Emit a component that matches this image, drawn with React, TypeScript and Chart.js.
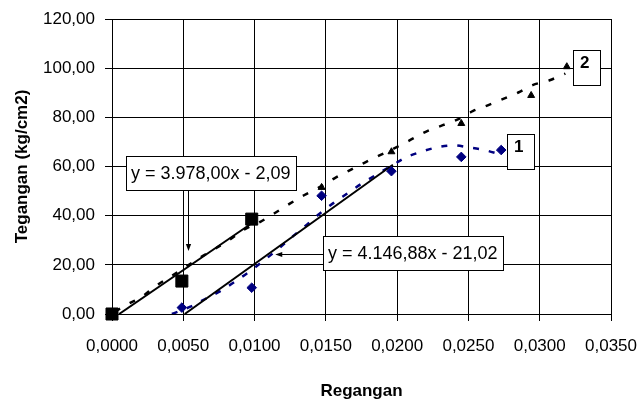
import React, { useEffect, useRef } from 'react';
import { Chart, registerables } from 'chart.js';

Chart.register(...registerables);

// ---- data ----
const X_TICKS_MIN = 0;
const X_TICKS_MAX = 0.035;
const X_STEP = 0.005;
const Y_TICKS_MIN = 0;
const Y_TICKS_MAX = 120;
const Y_STEP = 20;

// Series 1 (blue diamonds)
const S1_X = [0.0049, 0.0098, 0.0147, 0.0196, 0.0245, 0.0273];
const S1_Y = [2.6, 10.7, 48.1, 58.1, 63.9, 66.7];

// Series 2 (black triangles)
const S2_X = [0, 0.0049, 0.0098, 0.0147, 0.0196, 0.0245, 0.0294, 0.0319];
const S2_Y = [0, 13.4, 38.6, 51.5, 66, 77.5, 88.9, 100.6];

// Points used for the linear fit (black squares)
const SQ_X = [0, 0.0049, 0.0098];
const SQ_Y = [0, 13.4, 38.6];

// Trend curve of series 1 (blue dotted)
const T1_X = [0.0042, 0.0055, 0.0065, 0.0076, 0.0086, 0.0097, 0.0106, 0.0117, 0.0126, 0.0135, 0.0146, 0.0155, 0.0165, 0.0175, 0.0187, 0.0197, 0.0205, 0.0217, 0.0228, 0.024, 0.025, 0.0261, 0.0272];
const T1_Y = [0, 3, 6, 9.3, 13.1, 17.5, 21.5, 26.7, 31.2, 35.5, 41, 45, 49, 53, 57.2, 60.6, 63.4, 66, 67.8, 68.6, 67.8, 66.7, 65];

// Trend curve of series 2 (black dashed)
const T2_X = [0.0002, 0.0011, 0.0021, 0.003, 0.0041, 0.0062, 0.0082, 0.0092, 0.0104, 0.0114, 0.0125, 0.0135, 0.0146, 0.0156, 0.0167, 0.0177, 0.0188, 0.02, 0.0209, 0.022, 0.0232, 0.0243, 0.0253, 0.0264, 0.0274, 0.0285, 0.0295, 0.0307, 0.0318];
const T2_Y = [1, 4, 7, 11.1, 15.2, 23, 30, 34.1, 37.5, 41, 45, 48.4, 51.7, 55.2, 58.5, 61.5, 64.6, 68, 70.7, 74.1, 76.8, 79.3, 82.5, 85, 87.4, 90.1, 93.1, 95.1, 97.8];

// Linear fit lines (solid black)
const FIT1_X = [0.0005, 0.0098];
const FIT1_Y = [0, 36.9];
const FIT2_X = [0.0051, 0.0197];
const FIT2_Y = [0, 60.7];

const EQ1_TEXT = 'y = 3.978,00x - 2,09';
const EQ2_TEXT = 'y = 4.146,88x - 21,02';
const LABEL1 = '1';
const LABEL2 = '2';
const X_TITLE = 'Regangan';
const Y_TITLE = 'Tegangan (kg/cm2)';

// ---- annotation placement (data coordinates) ----
const EQUATIONS = [
  { text: EQ1_TEXT, boxX: 0.001, boxY: 64.3, headX: 0.00535, headY: 25.6, tail: 'bottom' },
  { text: EQ2_TEXT, boxX: 0.01481, boxY: 31.7, headX: 0.01145, headY: 24.4, tail: 'left' },
];
const SERIES_LABELS = [
  { text: LABEL1, x: 0.02774, y: 73.2 },
  { text: LABEL2, x: 0.03236, y: 107.4 },
];

const FONT = '"Liberation Sans", Arial, Helvetica, sans-serif';

const zip = (xs: number[], ys: number[]) => xs.map((x, i) => ({ x, y: ys[i] }));

function drawArrow(ctx: CanvasRenderingContext2D, x1: number, y1: number, x2: number, y2: number) {
  const ang = Math.atan2(y2 - y1, x2 - x1);
  const len = 7;
  const half = 2.6;
  ctx.beginPath();
  ctx.moveTo(x1, y1);
  ctx.lineTo(x2 - Math.cos(ang) * len * 0.6, y2 - Math.sin(ang) * len * 0.6);
  ctx.lineWidth = 1;
  ctx.strokeStyle = '#000';
  ctx.stroke();
  ctx.beginPath();
  ctx.moveTo(x2, y2);
  ctx.lineTo(x2 - Math.cos(ang) * len - Math.sin(ang) * half, y2 - Math.sin(ang) * len + Math.cos(ang) * half);
  ctx.lineTo(x2 - Math.cos(ang) * len + Math.sin(ang) * half, y2 - Math.sin(ang) * len - Math.cos(ang) * half);
  ctx.closePath();
  ctx.fillStyle = '#000';
  ctx.fill();
}

const annotationPlugin = {
  id: 'eqAnnotations',
  afterDatasetsDraw(chart: any) {
    const { ctx, scales } = chart;
    const xs = scales.x;
    const ys = scales.y;
    ctx.save();
    for (const eq of EQUATIONS) {
      ctx.font = `18px ${FONT}`;
      const tw = ctx.measureText(eq.text).width;
      const bx = Math.round(xs.getPixelForValue(eq.boxX));
      const by = Math.round(ys.getPixelForValue(eq.boxY));
      const w = Math.round(tw + 10);
      const h = 34;
      const hx = xs.getPixelForValue(eq.headX);
      const hy = ys.getPixelForValue(eq.headY);
      if (eq.tail === 'bottom') drawArrow(ctx, Math.round(hx) + 0.5, by + h, Math.round(hx) + 0.5, hy);
      else drawArrow(ctx, bx, Math.round(hy) + 0.5, hx, Math.round(hy) + 0.5);
      ctx.fillStyle = '#fff';
      ctx.fillRect(bx, by, w, h);
      ctx.lineWidth = 1;
      ctx.strokeStyle = '#000';
      ctx.strokeRect(bx + 0.5, by + 0.5, w, h);
      ctx.fillStyle = '#000';
      ctx.textBaseline = 'middle';
      ctx.textAlign = 'left';
      ctx.fillText(eq.text, bx + 5, by + h / 2 + 1);
    }
    for (const lb of SERIES_LABELS) {
      const bx = Math.round(xs.getPixelForValue(lb.x));
      const by = Math.round(ys.getPixelForValue(lb.y));
      const w = 27;
      const h = 35;
      ctx.fillStyle = '#fff';
      ctx.fillRect(bx, by, w, h);
      ctx.lineWidth = 1;
      ctx.strokeStyle = '#000';
      ctx.strokeRect(bx + 0.5, by + 0.5, w, h);
      ctx.fillStyle = '#000';
      ctx.font = `bold 17px ${FONT}`;
      ctx.textBaseline = 'middle';
      ctx.textAlign = 'left';
      ctx.fillText(lb.text, bx + 7, by + 13);
    }
    ctx.restore();
  },
};

export default function App() {
  const canvasRef = useRef<HTMLCanvasElement | null>(null);

  useEffect(() => {
    const canvas = canvasRef.current;
    if (!canvas) return;
    const navy = '#000080';
    const chart = new Chart(canvas, {
      type: 'scatter',
      data: {
        datasets: [
          {
            label: 'squares',
            data: zip(SQ_X, SQ_Y),
            showLine: false,
            pointStyle: 'rect',
            pointRadius: 8.5,
            backgroundColor: '#000',
            borderColor: '#000',
            borderWidth: 1,
            clip: false,
            order: 1,
          },
          {
            label: '1',
            data: zip(S1_X, S1_Y),
            showLine: false,
            pointStyle: 'rectRot',
            pointRadius: 4.8,
            backgroundColor: navy,
            borderColor: navy,
            borderWidth: 1,
            clip: false,
            order: 2,
          },
          {
            label: '2',
            data: zip(S2_X, S2_Y),
            showLine: false,
            pointStyle: 'triangle',
            pointRadius: 4,
            backgroundColor: '#000',
            borderColor: '#000',
            borderWidth: 1,
            clip: false,
            order: 3,
          },
          {
            label: 'fit1',
            data: zip(FIT1_X, FIT1_Y),
            showLine: true,
            pointRadius: 0,
            borderColor: '#000',
            borderWidth: 2,
            order: 4,
          },
          {
            label: 'fit2',
            data: zip(FIT2_X, FIT2_Y),
            showLine: true,
            pointRadius: 0,
            borderColor: '#000',
            borderWidth: 2,
            order: 5,
          },
          {
            label: 'trend1',
            data: zip(T1_X, T1_Y),
            showLine: true,
            pointRadius: 0,
            borderColor: navy,
            borderWidth: 2.5,
            borderDash: [6, 10],
            cubicInterpolationMode: 'monotone',
            order: 6,
          },
          {
            label: 'trend2',
            data: zip(T2_X, T2_Y),
            showLine: true,
            pointRadius: 0,
            borderColor: '#000',
            borderWidth: 2.5,
            borderDash: [6, 11],
            cubicInterpolationMode: 'monotone',
            order: 7,
          },
        ],
      },
      options: {
        animation: false,
        responsive: false,
        devicePixelRatio: 1,
        events: [],
        layout: { padding: { top: 19, right: 29, left: 0, bottom: 0 } },
        plugins: {
          legend: { display: false },
          tooltip: { enabled: false },
        },
        scales: {
          x: {
            type: 'linear',
            min: X_TICKS_MIN,
            max: X_TICKS_MAX,
            afterFit: (s: any) => {
              s.height = 87;
              s.paddingLeft = 0;
              s.paddingRight = 0;
            },
            ticks: {
              stepSize: X_STEP,
              autoSkip: false,
              maxRotation: 0,
              color: '#000',
              padding: 15,
              font: { size: 17, family: FONT },
              callback: (v: any) => Number(v).toFixed(4).replace('.', ','),
            },
            grid: { color: '#000', lineWidth: 1, tickLength: 7 },
            border: { color: '#000', width: 1 },
            title: {
              display: true,
              text: X_TITLE,
              color: '#000',
              font: { size: 17, weight: 'bold', family: FONT },
              padding: { top: 0, bottom: -1 },
            },
          },
          y: {
            type: 'linear',
            min: Y_TICKS_MIN,
            max: Y_TICKS_MAX,
            afterFit: (s: any) => {
              s.width = 112;
              s.paddingTop = 0;
              s.paddingBottom = 0;
            },
            ticks: {
              stepSize: Y_STEP,
              color: '#000',
              padding: 10,
              font: { size: 17, family: FONT },
              callback: (v: any) => Number(v).toFixed(2).replace('.', ','),
            },
            grid: { color: '#000', lineWidth: 1, tickLength: 7 },
            border: { color: '#000', width: 1 },
            title: {
              display: true,
              text: Y_TITLE,
              color: '#000',
              font: { size: 17, weight: 'bold', family: FONT },
              padding: { top: 12, bottom: 0 },
            },
          },
        },
      },
      plugins: [annotationPlugin],
    } as any);
    return () => chart.destroy();
  }, []);

  return (
    <div style={{ position: 'absolute', left: 0, top: 0, width: 640, height: 401, background: '#fff' }}>
      <canvas ref={canvasRef} width={640} height={401} style={{ display: 'block' }} />
    </div>
  );
}
